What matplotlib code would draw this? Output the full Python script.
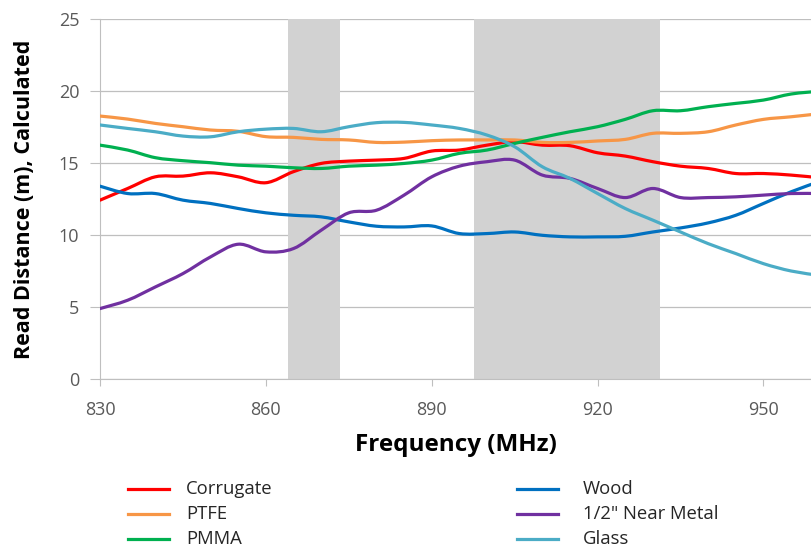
import numpy as np
import matplotlib
matplotlib.use("Agg")
import matplotlib.pyplot as plt
from matplotlib.lines import Line2D
from matplotlib.path import Path
from matplotlib.patches import PathPatch

plt.rcParams['font.family'] = ['Open Sans', 'DejaVu Sans']

# Frequência (MHz) e distâncias de leitura
freq = [830, 835, 840, 845, 850, 855, 860, 865, 870, 875, 880, 885, 890, 895,
        900, 905, 910, 915, 920, 925, 930, 935, 940, 945, 950, 955, 960]

corrugate = [12.42, 13.23, 14.04, 14.09, 14.32, 14.04, 13.63, 14.40, 14.97, 15.13,
             15.20, 15.32, 15.83, 15.90, 16.24, 16.48, 16.24, 16.20, 15.71, 15.48,
             15.09, 14.78, 14.62, 14.27, 14.27, 14.16, 13.98]
ptfe = [18.26, 18.05, 17.75, 17.52, 17.29, 17.20, 16.83, 16.78, 16.64, 16.60,
        16.43, 16.45, 16.55, 16.60, 16.60, 16.60, 16.43, 16.43, 16.53, 16.64,
        17.06, 17.06, 17.17, 17.64, 18.03, 18.21, 18.42]
pmma = [16.24, 15.90, 15.37, 15.16, 15.02, 14.85, 14.78, 14.67, 14.62, 14.78,
        14.85, 14.97, 15.20, 15.67, 15.90, 16.36, 16.78, 17.17, 17.52, 18.03,
        18.63, 18.63, 18.91, 19.14, 19.37, 19.79, 19.98]
wood = [13.39, 12.88, 12.88, 12.42, 12.19, 11.84, 11.54, 11.37, 11.26, 10.91,
        10.61, 10.56, 10.63, 10.10, 10.10, 10.21, 9.98, 9.87, 9.87, 9.91,
        10.21, 10.49, 10.84, 11.37, 12.19, 13.00, 13.70]
near_metal = [4.89, 5.47, 6.39, 7.32, 8.48, 9.36, 8.83, 9.06, 10.33, 11.54,
              11.72, 12.77, 14.04, 14.78, 15.09, 15.20, 14.16, 13.93, 13.23, 12.60,
              13.23, 12.60, 12.60, 12.65, 12.77, 12.88, 12.88]
glass = [17.64, 17.40, 17.17, 16.87, 16.82, 17.17, 17.35, 17.40, 17.17, 17.52,
         17.80, 17.82, 17.64, 17.40, 16.94, 16.13, 14.74, 13.93, 12.88, 11.84,
         11.03, 10.21, 9.40, 8.71, 8.01, 7.50, 7.20]

series_names = ['Corrugate', 'PTFE', 'PMMA', 'Wood', '1/2" Near Metal', 'Glass']
series_values = [corrugate, ptfe, pmma, wood, near_metal, glass]
series_colors = ['#FF0000', '#F79646', '#00B050', '#0070C0', '#7030A0', '#4BACC6']

# Faixas sombreadas (MHz)
bandas = [(864.0, 873.4), (897.7, 931.3)]


def linha_suave(x, y):
    # curva de Bézier passando pelos pontos (estilo "linha suavizada" do Excel)
    x = np.asarray(x, float)
    y = np.asarray(y, float)
    pts = np.column_stack([x, y])
    ext = np.vstack([pts[0], pts, pts[-1]])
    verts = [pts[0]]
    codes = [Path.MOVETO]
    for i in range(len(pts) - 1):
        p0, p1, p2, p3 = ext[i], ext[i + 1], ext[i + 2], ext[i + 3]
        c1 = p1 + (p2 - p0) / 6
        c2 = p2 - (p3 - p1) / 6
        verts += [c1, c2, p2]
        codes += [Path.CURVE4] * 3
    return Path(verts, codes)


fig = plt.figure(figsize=(8.11, 5.47), dpi=100)
ax = fig.add_axes([100 / 811, 1 - 379 / 547, 711 / 811, 360 / 547])

for ini, fim in bandas:
    ax.axvspan(ini, fim, color='#D2D2D2', lw=0, zorder=1)

for vals, cor in zip(series_values, series_colors):
    ax.add_patch(PathPatch(linha_suave(freq, vals), fill=False, edgecolor=cor,
                           lw=2.3, zorder=3, capstyle='round', joinstyle='round'))

ax.set_xlim(830, 958.6)
ax.set_ylim(0, 25)
ax.set_xticks([830, 860, 890, 920, 950])
ax.set_yticks(np.arange(0, 26, 5))
ax.grid(axis='y', color='#BFBFBF', lw=0.9, zorder=0)
ax.set_axisbelow(True)

for s in ['top', 'right']:
    ax.spines[s].set_visible(False)
ax.spines['left'].set_color('#BFBFBF')
ax.spines['bottom'].set_color('#BFBFBF')
ax.tick_params(axis='x', length=5, color='#BFBFBF', labelsize=13, labelcolor='#595959', pad=11)
ax.tick_params(axis='y', length=7, color='#BFBFBF', labelsize=13, labelcolor='#595959', pad=8)

ax.set_xlabel('Frequency (MHz)', fontsize=17.5, fontweight='bold', labelpad=10)
ax.set_ylabel('Read Distance (m), Calculated', fontsize=15.5, fontweight='bold', labelpad=17)

# Legenda em duas colunas abaixo do gráfico
W, H = 811, 547
for i, (nome, cor) in enumerate(zip(series_names, series_colors)):
    col, lin = divmod(i, 3)
    x0 = 128 if col == 0 else 517
    y = 489 + 25 * lin
    fig.add_artist(Line2D([x0 / W, (x0 + 41) / W], [1 - y / H, 1 - y / H],
                          color=cor, lw=2.3, transform=fig.transFigure))
    fig.text((x0 + 58 + (8 if col == 1 else 0)) / W, 1 - y / H, nome,
             fontsize=13.3, va='center', ha='left', color='#262626')

fig.savefig('out.png', dpi=100)
